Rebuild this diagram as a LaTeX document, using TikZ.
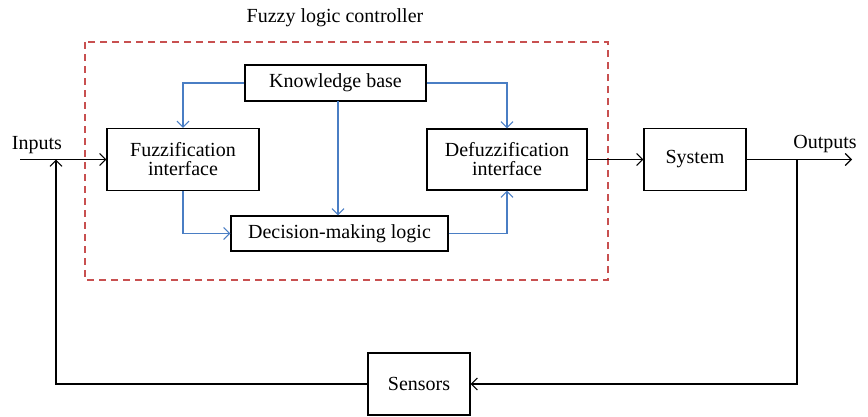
\documentclass[tikz,border=0pt]{standalone}
\usepackage{fontspec}
\setmainfont{Liberation Serif}
\usetikzlibrary{arrows.meta}
\definecolor{flowblue}{RGB}{74,126,196}
\definecolor{ctrlred}{RGB}{200,80,80}
\begin{document}
\begin{tikzpicture}[x=1pt,y=-1pt,
  font=\fontsize{20}{22}\selectfont,
  block/.style={draw=black,line width=1.2pt,inner sep=0pt,align=center},
  sig/.style={draw=black,line width=1.2pt},
  tip/.style={-{Straight Barb[length=6pt,width=12pt,line width=1.1pt]}},
  bflow/.style={draw=flowblue,line width=1.2pt,-{Straight Barb[length=6pt,width=12pt,line width=1.1pt]}},
  lbl/.style={inner sep=0pt}]
\useasboundingbox (0,0) rectangle (868,416);

% fuzzy logic controller boundary
\draw[ctrlred,line width=1.2pt,dash pattern=on 7pt off 5pt] (85,42) rectangle (608,280);
\node[lbl] (title) at (335,18) {Fuzzy logic controller};

% blocks
\node[block,minimum width=181pt,minimum height=36pt] (kb) at (335.5,83) {Knowledge base};
\node[block,minimum width=152pt,minimum height=62pt] (fuzz) at (183,159.5) {Fuzzification\\[-3pt]interface};
\node[block,minimum width=160pt,minimum height=61pt] (defuzz) at (507,159.5) {Defuzzification\\[-3pt]interface};
\node[block,minimum width=217pt,minimum height=35pt] (dml) at (339.5,233.5) {Decision-making logic};
\node[block,minimum width=102pt,minimum height=62pt] (sys) at (695,159.5) {System};
\node[block,minimum width=102pt,minimum height=62pt] (sens) at (419,384) {Sensors};

% signal points
\coordinate (in) at (20,159.5);
\coordinate (fbtop) at (56,159.5);
\coordinate (fbbot) at (56,384);
\coordinate (out) at (852,159.5);
\coordinate (obtop) at (797,159.5);
\coordinate (obbot) at (797,384);
\coordinate (kbdrop) at (338,101);

\node[lbl] (inlbl) at (37,145) {Inputs};
\node[lbl] (outlbl) at (825,144) {Outputs};

% main signal path
\draw[sig,tip] (in) -- (fuzz.west);
\draw[sig,tip] (defuzz.east) -- (sys.west);
\draw[sig,tip] (sys.east) -- (out);
\draw[sig,tip] (obtop) -- (obbot) -- (sens.east);
\draw[sig,tip] (sens.west) -- (fbbot) -- (fbtop);

% internal flows
\draw[bflow] (kb.west) -| (fuzz.north);
\draw[bflow] (kb.east) -| (defuzz.north);
\draw[bflow] (kbdrop) -- (kbdrop |- dml.north);
\draw[bflow] (fuzz.south) |- (dml.west);
\draw[bflow] (dml.east) -| (defuzz.south);
\end{tikzpicture}
\end{document}
